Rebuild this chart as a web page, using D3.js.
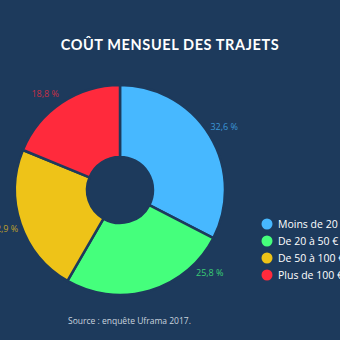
<!DOCTYPE html>
<html>
<head>
<meta charset="utf-8">
<script src="https://cdn.jsdelivr.net/npm/d3@7"></script>
<style>
  html, body { margin: 0; padding: 0; background: #1d3a5c; }
  svg { display: block; }
</style>
</head>
<body>
<svg id="chart" width="340" height="340"></svg>
<script>
// Monthly commute cost shares (%)
const categories = ["Moins de 20 €", "De 20 à 50 €", "De 50 à 100 €", "Plus de 100 €"];
const shares = [32.6, 25.8, 22.9, 18.8];
const valueLabels = ["32,6 %", "25,8 %", "22,9 %", "18,8 %"];
const sliceColors = ["#47b8ff", "#45ff7c", "#eec318", "#ff2a3c"];

const title = "COÛT MENSUEL DES TRAJETS";
const source = "Source : enquête Uframa 2017.";

// Layout
const W = 340, H = 340;
const bg = "#1d3a5c";
const cx = 120, cy = 190;
const outerR = 105, innerR = 33;
const labelR = 122;
// angular nudge (degrees) applied to individual value labels to keep them clear
const labelNudge = [0, -31, 0, -4];

const svg = d3.select("#chart");
svg.append("rect").attr("width", W).attr("height", H).attr("fill", bg);

svg.append("text")
  .attr("x", 170).attr("y", 50)
  .attr("text-anchor", "middle")
  .attr("fill", "#ffffff")
  .style("font-family", "Lato, 'DejaVu Sans', sans-serif")
  .style("font-weight", "700")
  .style("font-size", "14.5px")
  .style("letter-spacing", "0.6px")
  .text(title);

const data = categories.map((c, i) => ({ cat: c, value: shares[i], label: valueLabels[i], color: sliceColors[i], nudge: labelNudge[i] }));

const pie = d3.pie().value(d => d.value).sort(null);
const arcs = pie(data);

const arc = d3.arc().innerRadius(innerR).outerRadius(outerR);

const g = svg.append("g").attr("transform", `translate(${cx},${cy})`);

g.selectAll("path.slice")
  .data(arcs)
  .join("path")
  .attr("class", "slice")
  .attr("d", arc)
  .attr("fill", d => d.data.color)
  .attr("stroke", bg)
  .attr("stroke-width", 2.5)
  .attr("stroke-linejoin", "round");

g.selectAll("text.val")
  .data(arcs)
  .join("text")
  .attr("class", "val")
  .attr("transform", d => {
    const a = (d.startAngle + d.endAngle) / 2 + d.data.nudge * Math.PI / 180;
    return `translate(${labelR * Math.sin(a)},${-labelR * Math.cos(a)})`;
  })
  .attr("text-anchor", "middle")
  .attr("dy", "0.35em")
  .attr("fill", d => d.data.color)
  .attr("fill-opacity", 0.75)
  .style("font-family", "'Open Sans', sans-serif")
  .style("font-size", "9px")
  .text(d => d.data.label);

// Legend
const legend = svg.append("g").attr("transform", "translate(267,224)");
const items = legend.selectAll("g.item")
  .data(data)
  .join("g")
  .attr("class", "item")
  .attr("transform", (d, i) => `translate(0,${i * 17})`);

items.append("circle").attr("r", 5.5).attr("fill", d => d.color);
items.append("text")
  .attr("x", 11).attr("dy", "0.36em")
  .attr("fill", "#ffffff")
  .style("font-family", "'Open Sans', sans-serif")
  .style("font-size", "10.5px")
  .text(d => d.cat);

svg.append("text")
  .attr("x", 68).attr("y", 324)
  .attr("fill", "#c9d3de")
  .style("font-family", "'Open Sans', sans-serif")
  .style("font-size", "8.5px")
  .text(source);
</script>
</body>
</html>
